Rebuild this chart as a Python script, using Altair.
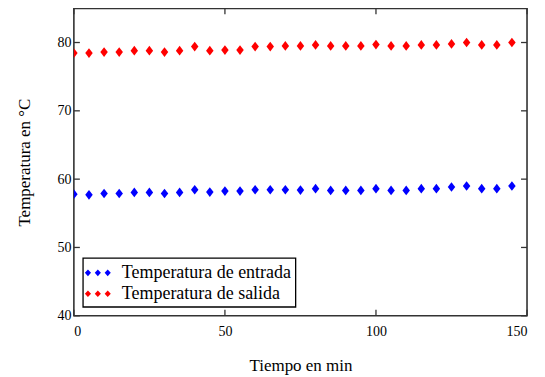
import altair as alt
import pandas as pd

tiempo = [0, 5, 10, 15, 20, 25, 30, 35, 40, 45, 50, 55, 60, 65, 70, 75,
          80, 85, 90, 95, 100, 105, 110, 115, 120, 125, 130, 135, 140, 145]
t_entrada = [57.8, 57.7, 57.9, 57.9, 58.05, 58.05, 57.9, 58.05, 58.45, 58.1,
             58.25, 58.25, 58.45, 58.45, 58.45, 58.4, 58.6, 58.35, 58.35, 58.35,
             58.6, 58.35, 58.35, 58.6, 58.6, 58.85, 59.0, 58.6, 58.6, 59.0]
t_salida = [78.45, 78.45, 78.6, 78.6, 78.8, 78.8, 78.6, 78.8, 79.4, 78.8,
            78.9, 78.9, 79.4, 79.4, 79.5, 79.5, 79.65, 79.5, 79.5, 79.5,
            79.7, 79.5, 79.5, 79.65, 79.65, 79.8, 80.0, 79.65, 79.65, 80.0]
series = ["Temperatura de entrada", "Temperatura de salida"]
colores = ["#0000FF", "#FF0000"]
x_ticks = [0, 50, 100, 150]
y_ticks = [40, 50, 60, 70, 80]

W, H = 454, 308
FONT = "Liberation Serif"
AX = "#333333"

df = pd.concat([
    pd.DataFrame({"t": tiempo, "temp": t_entrada, "serie": series[0]}),
    pd.DataFrame({"t": tiempo, "temp": t_salida, "serie": series[1]}),
])

xs = alt.Scale(domain=[0, 150], nice=False, zero=False)
ys = alt.Scale(domain=[40, 85], nice=False, zero=False)

diamond = "M0,-1.1L0.85,0L0,1.1L-0.85,0Z"
tri = ("M-1.18,0L-0.9,-0.3L-0.62,0L-0.9,0.3Z "
       "M-0.28,0L0,-0.3L0.28,0L0,0.3Z "
       "M0.62,0L0.9,-0.3L1.18,0L0.9,0.3Z")

points = alt.Chart(df).mark_point(
    shape=diamond, filled=True, size=78, opacity=1, clip=True, strokeWidth=0
).encode(
    x=alt.X("t:Q", scale=xs, axis=alt.Axis(
        values=x_ticks, title="Tiempo en min", ticks=False, domain=False,
        grid=False, labelPadding=9, titleX=W / 2, titleY=50,
        titleBaseline="middle", titleAlign="center")),
    y=alt.Y("temp:Q", scale=ys, axis=alt.Axis(
        values=y_ticks, title="Temperatura en °C", ticks=False, domain=False,
        grid=False, labelPadding=3, titleX=-49, titleY=H / 2,
        titleBaseline="middle", titleAlign="center", titleAngle=-90)),
    color=alt.Color("serie:N", scale=alt.Scale(domain=series, range=colores),
                    legend=alt.Legend(title=None, orient="none", legendX=9, legendY=250,
                                      symbolType=tri, symbolSize=484,
                                      symbolStrokeWidth=0, labelOffset=13,
                                      rowPadding=1, padding=4, labelLimit=400)),
)

xt = pd.DataFrame({"v": x_ticks})
yt = pd.DataFrame({"v": y_ticks})
tk = dict(color=AX, strokeWidth=1.3)

xb = alt.Chart(xt).mark_rule(**tk).encode(x=alt.X("v:Q", scale=xs), y=alt.value(H), y2=alt.value(H - 6))
xtp = alt.Chart(xt).mark_rule(**tk).encode(x=alt.X("v:Q", scale=xs), y=alt.value(0), y2=alt.value(6))
yl = alt.Chart(yt).mark_rule(**tk).encode(y=alt.Y("v:Q", scale=ys), x=alt.value(0), x2=alt.value(6))
yr = alt.Chart(yt).mark_rule(**tk).encode(y=alt.Y("v:Q", scale=ys), x=alt.value(W), x2=alt.value(W - 6))

chart = alt.layer(points, xb, xtp, yl, yr).properties(
    width=W, height=H,
    autosize=alt.AutoSizeParams(type="none"),
    padding={"left": 66, "top": 0, "right": 10, "bottom": 70},
).configure_view(
    stroke=AX, strokeWidth=1.6
).configure_axis(
    labelFont=FONT, labelFontSize=14, labelColor="black", labelFontWeight="normal",
    titleFont=FONT, titleFontSize=17, titleColor="black", titleFontWeight="normal",
).configure_legend(
    labelFont=FONT, labelFontSize=18, labelColor="black",
    strokeColor="black", fillColor="white", strokeWidth=1.3,
)

chart.save("out.html", embed_options={"renderer": "svg", "actions": False})
